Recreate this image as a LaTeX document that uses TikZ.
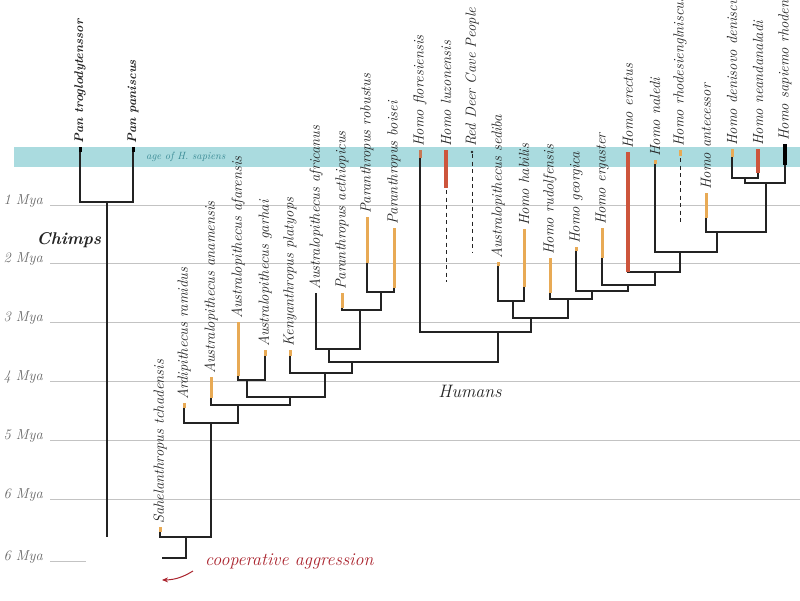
\documentclass[tikz,border=0pt]{standalone}
\usetikzlibrary{arrows.meta}
\definecolor{bandcyan}{RGB}{170,219,223}
\definecolor{tealtext}{RGB}{60,140,150}
\definecolor{ochre}{RGB}{232,170,85}
\definecolor{redbar}{RGB}{205,85,60}
\definecolor{tipbrown}{RGB}{200,120,85}
\definecolor{treegray}{RGB}{35,35,35}
\definecolor{gridgray}{RGB}{195,195,195}
\definecolor{myagray}{RGB}{105,105,105}
\definecolor{arrowred}{RGB}{170,35,45}
\begin{document}
\begin{tikzpicture}[x=1pt,y=-1pt,
  tree/.style={line width=1.1pt,color=treegray},
  obar/.style={line width=3pt,color=ochre},
  rbar/.style={line width=3.2pt,color=redbar},
  dashline/.style={line width=1pt,color=treegray,dash pattern=on 4pt off 3.5pt},
  gridline/.style={line width=0.8pt,color=gridgray},
  taxon/.style={rotate=90,anchor=west,inner sep=3pt,text=treegray,font=\fontsize{14.7}{15}\selectfont\itshape},
  mya/.style={anchor=east,inner sep=0pt,text=myagray,font=\fontsize{14.5}{15}\selectfont\itshape}]
\useasboundingbox (0,0) rectangle (800,600);
\fill[white] (0,0) rectangle (800,600);
\fill[bandcyan] (14,147) rectangle (800,167);
\node[anchor=west,inner sep=0pt,text=tealtext,font=\fontsize{10.5}{11}\selectfont\itshape] (age) at (146,157) {age of H. sapiens};
\foreach \y/\m in {205/1,263/2,322/3,381/4,440/5,499/6}{\draw[gridline] (50,\y)--(800,\y);\node[mya] (m\m) at (43,\y-4) {\m\ Mya};}
\draw[gridline] (50,561)--(86,561);\node[mya] (m7) at (43,557) {6 Mya};
\node[font=\fontsize{17}{17}\selectfont\bfseries\itshape,text=treegray] (chimps) at (69,240) {Chimps};
\node[font=\fontsize{18}{18}\selectfont\itshape,text=treegray] (humans) at (470,391) {Humans};
\foreach \n/\x/\t/\l in {ptro/80/147/{\fontsize{12.5}{13}\selectfont\bfseries Pan troglodytenssor},ppan/133/147/{\fontsize{12.5}{13}\selectfont\bfseries Pan paniscus},
  sahe/160/527/{Sahelanthropus tchadensis},ardi/184/403/{Ardipithecus ramidus},anam/211/377/{Australopithecus anamensis},
  afar/238/322/{Australopithecus afarensis},garh/265/350/{Australopithecus garhai},keny/290/350/{Kenyanthropus platyops},
  afri/316/293/{Australopithecus africanus},aeth/342/293/{Paranthropus aethiopicus},robu/367/217/{Paranthropus robustus},
  bois/394/228/{Paranthropus boisei},flor/420/150/{Homo floresiensis},luzo/446/150/{Homo luzonensis},
  rdcp/472/150/{Red Deer Cave People},sedi/498/262/{Australopithecus sediba},habi/524/229/{Homo habilis},
  rudo/550/258/{Homo rudolfensis},geor/576/247/{Homo georgica},erga/602/228/{Homo ergaster},erec/628/152/{Homo erectus},
  nale/655/160/{Homo naledi},rhod/680/150/{Homo rhodesienglniscus},ante/706/193/{Homo antecessor},
  deni/732/149/{Homo denisovo deniscus},nean/758/149/{Homo neandanaladi},sapi/785/144/{Homo sapiemo rhodenosis}}
  {\coordinate (\n) at (\x,\t);\node[taxon] (\n-l) at (\n) {\l};}
\foreach \n/\x/\y in {nc/107/202,cbase/107/537,hroot/186/537,hbase/162/558,h0/211/423,h2/238/405,h3/290/397,h1/247/380,
  hk/325/373,h4/352/362,h5/329/349,h6/360/310,h7/381/292,hh/498/332,hm/531/318,hs/513/301,hr/568/299,hg/592/291,
  he/628/285,hx/655/272,hn/680/252,ha/717/232,hd/766/183,hdn/745/178}
  \coordinate (\n) at (\x,\y);
\draw[tree] (nc)--(cbase) (hroot)|-(hbase);
\foreach \a/\n/\b in {ptro/nc/ppan,sahe/hroot/h0,ardi/h0/h2,anam/h2/h3,afar/h1/garh,h1/h3/hk,keny/hk/h4,h5/h4/hh,
  afri/h5/h6,aeth/h6/h7,robu/h7/bois,flor/hh/hm,hs/hm/hr,sedi/hs/habi,rudo/hr/hg,geor/hg/he,erga/he/hx,erec/hx/hn,
  nale/hn/ha,ante/ha/hd,hdn/hd/sapi,deni/hdn/nean}
  \draw[tree] (\a)|-(\n)-|(\b);
\foreach \n/\l in {sahe/5,ardi/5,anam/21,afar/54,garh/6,keny/6,aeth/15,robu/46,bois/60,sedi/4,habi/58,rudo/35,
  geor/4,erga/30,nale/4,rhod/6,ante/25,deni/8}
  \draw[obar] (\n)--++(0,\l);
\foreach \n/\l in {luzo/38,erec/120,nean/24} \draw[rbar] (\n)--++(0,\l);
\draw[line width=3pt,tipbrown] (flor)--++(0,8);
\draw[line width=3.5pt,black] (sapi)--++(0,21);
\draw[line width=3pt,black] (ptro)--++(0,5) (ppan)--++(0,5);
\draw[dashline] (luzo) ++(0,40)--++(0,92);
\draw[dashline] (rdcp) ++(0,4)--++(0,98);
\draw[dashline] (rhod) ++(0,8)--++(0,65);
\fill[treegray] (rdcp) ++(0,2) circle (1.3);
\node[anchor=west,inner sep=0pt,text=arrowred,font=\fontsize{18}{18}\selectfont\itshape] (coop) at (205,561) {cooperative aggression};
\coordinate (ca-a) at (193,571);\coordinate (ca-b) at (162,580);
\draw[arrowred,line width=1pt,-{Stealth[length=6pt,width=5pt]}] (ca-a) to[bend left=15] (ca-b);
\end{tikzpicture}
\end{document}
